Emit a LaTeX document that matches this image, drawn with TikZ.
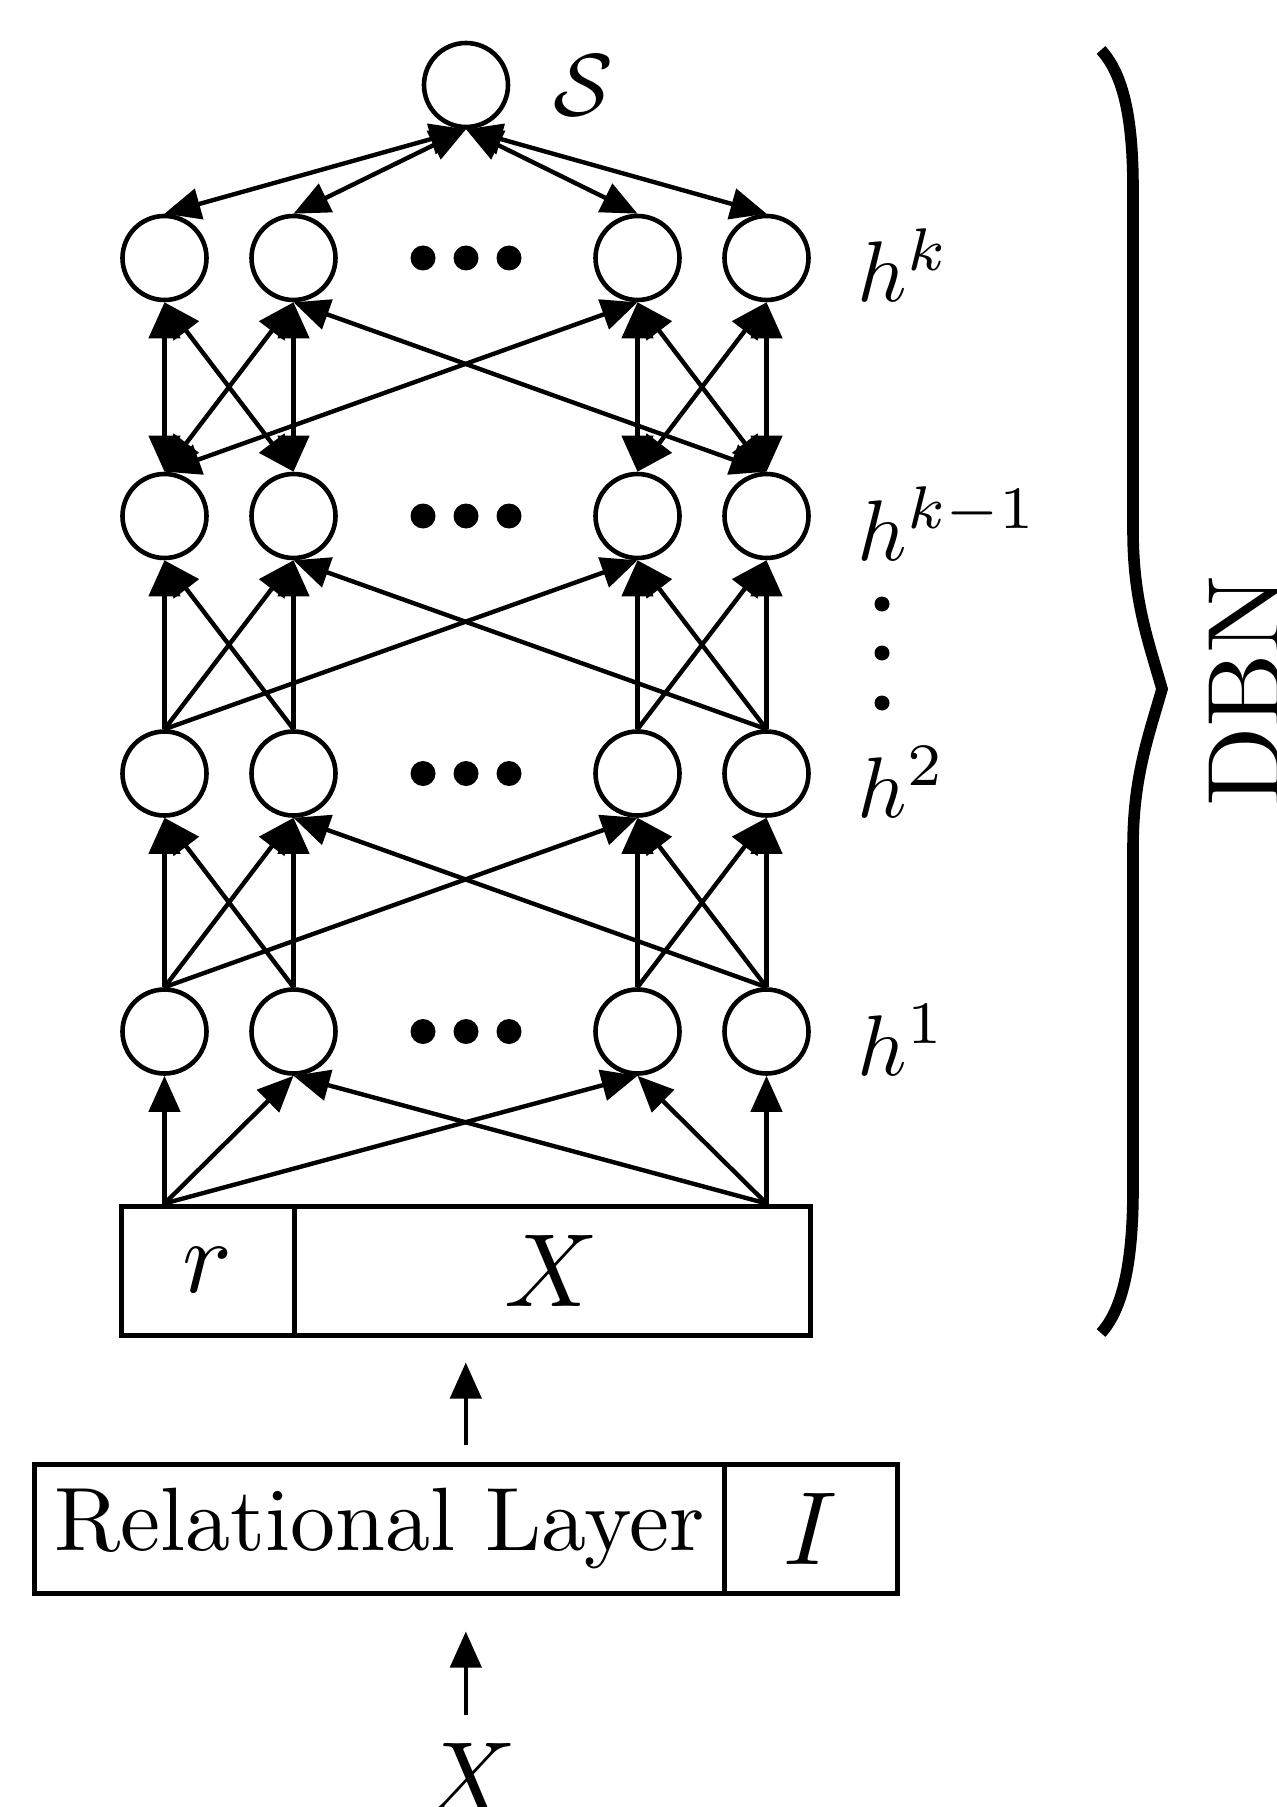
\documentclass[tikz,border=0pt]{standalone}
\usepackage{graphicx}
\usetikzlibrary{arrows.meta,calc}
\begin{document}
\begin{tikzpicture}[x=0.25pt,y=-0.25pt,
  unit/.style={circle,draw,line width=1.15pt,minimum size=21pt,inner sep=0pt},
  cell/.style={rectangle,draw,line width=1.25pt,minimum height=32.25pt,inner sep=0pt},
  link/.style={line width=1.1pt},
  bigdot/.style={circle,fill,inner sep=0pt,minimum size=6.25pt},
  smalldot/.style={circle,fill,inner sep=0pt,minimum size=3.75pt},
  lbl/.style={anchor=base west,inner sep=0pt},
  >={Triangle[length=9pt,width=7.75pt]}
]
\useasboundingbox (0,0) rectangle (1276,1807);

% top unit
\node[unit] (S) at (466,85) {};
\node[lbl] (lS) at (553,116) {\scalebox{2.2}{$\mathcal{S}$}};

% hidden layers
\foreach \r/\y in {k/258,m/516,b/773.5,a/1031.5}{
  \foreach \c/\x in {1/164.5,2/293.5,3/637.5,4/766.5}{
    \node[unit] (\r\c) at (\x,\y) {};
  }
  \node[bigdot] (\r d1) at (423,\y) {};
  \node[bigdot] (\r d2) at (466,\y) {};
  \node[bigdot] (\r d3) at (509,\y) {};
}

% layer labels
\node[lbl] (lk) at (857,302) {\scalebox{2.15}{$h^k$}};
\node[lbl] (lm) at (857,560) {\scalebox{2.15}{$h^{k-1}$}};
\node[lbl] (lb) at (857,817) {\scalebox{2.15}{$h^2$}};
\node[lbl] (la) at (857,1075) {\scalebox{2.15}{$h^1$}};
\node[smalldot] (v1) at (882,604) {};
\node[smalldot] (v2) at (882,653) {};
\node[smalldot] (v3) at (882,703) {};

% connections between layers
\foreach \i/\j in {1/1,1/2,1/3,2/1,2/2,3/3,3/4,4/3,4/4,4/2}{
  \draw[link,->] (a\i.north) -- (b\j.south);
  \draw[link,->] (b\i.north) -- (m\j.south);
  \draw[link,<->] (m\i.north) -- (k\j.south);
}
\foreach \j in {1,...,4}{
  \draw[link,<->] (k\j.north) -- (S.south);
}

% input box r | X
\node[cell,minimum width=43.25pt] (rc) at (207.5,1270.5) {\scalebox{2.6}{$r$}};
\node[cell,minimum width=129pt] (xc) at (552,1270.5) {\scalebox{2.6}{$X$}};
\coordinate (bl) at (a1 |- rc.north);
\coordinate (br) at (a4 |- xc.north);
\foreach \j in {1,2,3}{\draw[link,->] (bl) -- (a\j.south);}
\foreach \j in {2,3,4}{\draw[link,->] (br) -- (a\j.south);}

% relational layer box
\node[cell,minimum width=172.35pt] (rl) at (379.3,1528.5) {\scalebox{2.25}{Relational Layer}};
\node[cell,minimum width=43.25pt] (ri) at (810.5,1528.5) {\scalebox{2.6}{$I$}};
\coordinate (rtop) at ($(rl.north west)!.5!(ri.north east)$);
\coordinate (rbot) at ($(rl.south west)!.5!(ri.south east)$);
\draw[link,->,shorten <=4.25pt,shorten >=6.25pt] (rtop) -- (rtop |- xc.south);

% input X
\node[anchor=base,inner sep=0pt] (Xin) at (470,1814) {\scalebox{2.6}{$X$}};
\draw[link,->,shorten <=6.75pt,shorten >=9pt] (rbot |- Xin.north) -- (rbot);

% brace and DBN
\draw[line width=2.9pt,line join=miter] (1101,50) .. controls (1124,75) and (1133,120) .. (1133,190)
  -- (1133,530) .. controls (1133,600) and (1148,640) .. (1162,689)
  .. controls (1148,738) and (1133,778) .. (1133,848)
  -- (1133,1188) .. controls (1133,1258) and (1124,1308) .. (1101,1333);
\node[rotate=90,anchor=north,inner sep=0pt] (dbn) at (1208,691) {\scalebox{2.61}{DBN}};
\end{tikzpicture}
\end{document}
